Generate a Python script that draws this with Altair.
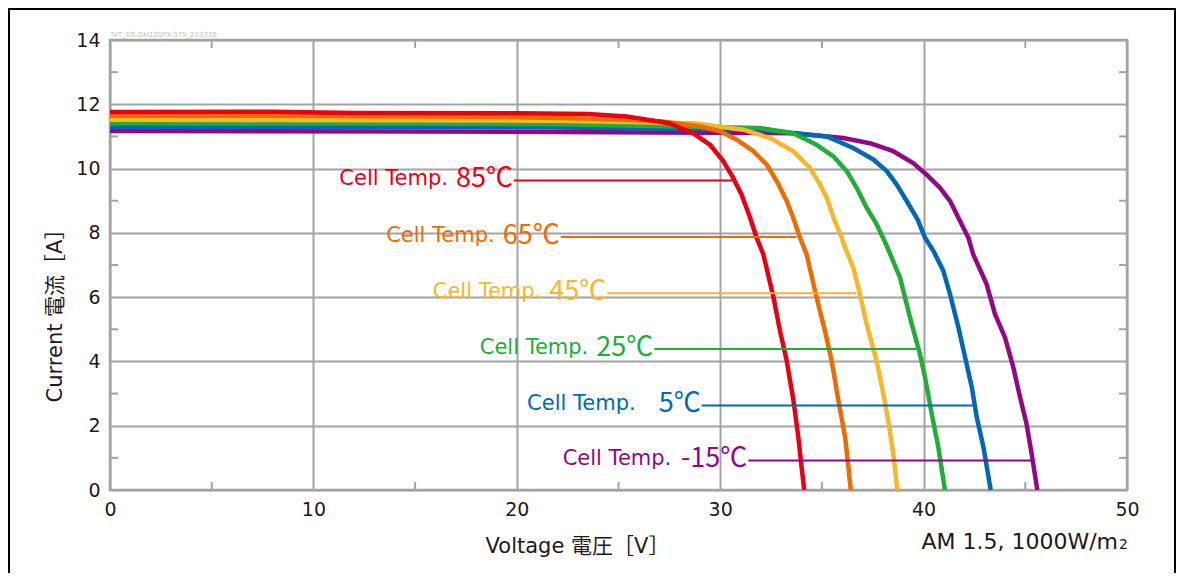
import altair as alt
import pandas as pd

FONT = "DejaVu Sans, Noto Sans CJK JP"
NUMFONT = "Noto Sans CJK JP"
TXT = "#231815"
GRID = "#a3a3a3"

temps = ["-15℃", "5℃", "25℃", "45℃", "65℃", "85℃"]
colors = ["#920783", "#0068b7", "#22ac38", "#f8b62d", "#ed6c00", "#e60012"]

v_m15 = [0, 15, 22, 33.59, 36.05, 37.36, 38.51, 39.49, 40.15, 40.81, 41.3, 41.79, 42.2, 42.44, 43.1, 43.51, 44.0, 44.41, 44.74, 45.06, 45.31, 45.59]
i_m15 = [11.17, 11.15, 11.14, 11.10, 10.95, 10.79, 10.54, 10.17, 9.81, 9.40, 8.99, 8.37, 7.85, 7.33, 6.40, 5.47, 4.75, 3.82, 2.89, 2.06, 1.13, 0.0]

v_5 = [0, 15, 22, 31.96, 35.24, 36.54, 37.53, 38.19, 38.68, 39.17, 39.7, 40.07, 40.48, 40.97, 41.3, 41.71, 42.04, 42.37, 42.61, 42.94, 43.3]
i_5 = [11.29, 11.29, 11.28, 11.21, 11.00, 10.64, 10.28, 9.92, 9.50, 8.99, 8.42, 7.85, 7.44, 6.82, 6.09, 5.06, 4.13, 3.20, 2.27, 1.34, 0.0]

v_25 = [0, 15, 22, 31.96, 33.59, 34.74, 35.56, 36.22, 36.71, 37.2, 37.69, 38.15, 38.84, 39.33, 39.82, 40.07, 40.4, 40.72, 41.05]
i_25 = [11.41, 11.40, 11.38, 11.26, 11.10, 10.74, 10.38, 9.92, 9.40, 8.78, 8.27, 7.65, 6.61, 5.37, 4.23, 3.51, 2.37, 1.34, 0.0]

v_45 = [0, 15, 22, 28.68, 31.14, 32.45, 33.59, 34.41, 34.91, 35.24, 35.6, 35.97, 36.14, 36.54, 36.87, 37.2, 37.69, 38.02, 38.26, 38.51, 38.71]
i_45 = [11.52, 11.50, 11.49, 11.41, 11.21, 10.95, 10.54, 10.02, 9.50, 9.09, 8.42, 7.85, 7.54, 6.92, 6.09, 5.16, 4.02, 2.99, 2.16, 1.13, 0.0]

v_65 = [0, 10, 20, 24, 27.04, 29.01, 29.99, 30.81, 31.63, 32.29, 32.78, 33.27, 33.59, 33.92, 34.25, 34.74, 35.15, 35.48, 35.81, 36.14, 36.3, 36.42]
i_65 = [11.64, 11.64, 11.60, 11.55, 11.47, 11.31, 11.16, 10.90, 10.54, 10.12, 9.61, 8.99, 8.47, 7.85, 7.33, 5.99, 4.95, 4.02, 2.79, 1.65, 0.72, 0.0]

v_85 = [0, 8, 12, 20, 23.5, 25.4, 27.5, 28.66, 29.5, 30.15, 30.64, 31.05, 31.47, 31.79, 32.12, 32.62, 32.94, 33.27, 33.6, 33.84, 34.0, 34.13]
i_85 = [11.76, 11.77, 11.73, 11.72, 11.70, 11.62, 11.41, 11.10, 10.74, 10.23, 9.71, 9.19, 8.47, 7.85, 7.33, 5.99, 4.95, 4.02, 2.79, 1.65, 0.72, 0.0]

series_v = [v_m15, v_5, v_25, v_45, v_65, v_85]
series_i = [i_m15, i_5, i_25, i_45, i_65, i_85]

leader_start = [31.38, 29.09, 26.76, 24.45, 22.16, 19.86]
leader_end = [45.31, 42.44, 39.66, 36.70, 33.76, 30.65]
leader_level = [0.92, 2.63, 4.39, 6.12, 7.87, 9.63]

x_ticks = [0, 10, 20, 30, 40, 50]
y_ticks = [0, 2, 4, 6, 8, 10, 12, 14]
x_minor = [5, 15, 25, 35, 45]
y_minor = [1, 3, 5, 7, 9, 11, 13]

W, H = 1017, 450

xscale = alt.Scale(domain=[0, 50], nice=False, zero=False)
yscale = alt.Scale(domain=[0, 14], nice=False, zero=False)

xaxis = alt.Axis(values=x_ticks, grid=True, gridColor=GRID, gridWidth=2, ticks=False, domain=False,
                 labelFont=FONT, labelFontSize=19, labelColor=TXT, labelPadding=10, labelFlush=False,
                 title="Voltage 電圧［V］", titleFont=FONT, titleFontSize=21, titleFontWeight="normal",
                 titleColor=TXT, titleX=467, titleY=62, titleAlign="center", titleBaseline="alphabetic")
yaxis = alt.Axis(values=y_ticks, grid=True, gridColor=GRID, gridWidth=2, ticks=False, domain=False,
                 labelFont=FONT, labelFontSize=19, labelColor=TXT, labelPadding=10, labelFlush=False,
                 title="Current 電流［A］", titleFont=FONT, titleFontSize=21, titleFontWeight="normal",
                 titleColor=TXT, titleX=-55, titleY=270, titleAngle=270, titleAlign="center",
                 titleBaseline="middle")


def X(f):
    return alt.X(f, type="quantitative", scale=xscale, axis=xaxis)


def Y(f):
    return alt.Y(f, type="quantitative", scale=yscale, axis=yaxis)


layers = []

# minor ticks
ym = pd.DataFrame({"m": y_minor})
xm = pd.DataFrame({"m": x_minor})
layers.append(alt.Chart(ym).mark_rule(color=GRID, strokeWidth=2).encode(y=Y("m"), x=alt.value(0), x2=alt.value(8)))
layers.append(alt.Chart(ym).mark_rule(color=GRID, strokeWidth=2).encode(y=Y("m"), x=alt.value(W - 8), x2=alt.value(W)))
layers.append(alt.Chart(xm).mark_rule(color=GRID, strokeWidth=2).encode(x=X("m"), y=alt.value(H - 8), y2=alt.value(H)))
layers.append(alt.Chart(xm).mark_rule(color=GRID, strokeWidth=2).encode(x=X("m"), y=alt.value(0), y2=alt.value(8)))

# curves
for v, i, c in zip(series_v, series_i, colors):
    df = pd.DataFrame({"V": v, "I": i})
    layers.append(alt.Chart(df).mark_line(color=c, strokeWidth=4.5, strokeJoin="round").encode(
        x=X("V"), y=Y("I"), order="V:Q"))

lab = pd.DataFrame({"temp": temps, "start": leader_start, "end": leader_end, "level": leader_level})
colscale = alt.Scale(domain=temps, range=colors)

layers.append(alt.Chart(lab).mark_rule(strokeWidth=2).encode(
    x=X("start"), x2="end", y=Y("level"), color=alt.Color("temp:N", scale=colscale, legend=None)))
layers.append(alt.Chart(lab).mark_text(align="right", baseline="middle", dx=-1, dy=-1, font=NUMFONT, fontSize=27).encode(
    x=X("start"), y=Y("level"), text="temp:N", color=alt.Color("temp:N", scale=colscale, legend=None)))
layers.append(alt.Chart(lab).transform_filter(alt.datum.temp != "-15℃").mark_text(
    align="right", baseline="middle", dx=-66, dy=-1, font=FONT, fontSize=21).encode(
    x=X("start"), y=Y("level"), text=alt.value("Cell Temp."), color=alt.Color("temp:N", scale=colscale, legend=None)))
layers.append(alt.Chart(lab).transform_filter(alt.datum.temp == "-15℃").mark_text(
    align="right", baseline="middle", dx=-77, dy=-1, font=FONT, fontSize=21).encode(
    x=X("start"), y=Y("level"), text=alt.value("Cell Temp."), color=alt.Color("temp:N", scale=colscale, legend=None)))

one = pd.DataFrame({"a": [0]})
layers.append(alt.Chart(one).mark_text(align="right", baseline="alphabetic", font=FONT, fontSize=22, color=TXT).encode(
    x=alt.value(1008), y=alt.value(509), text=alt.value("AM 1.5, 1000W/m")))
layers.append(alt.Chart(one).mark_text(align="left", baseline="alphabetic", font=FONT, fontSize=14, color=TXT).encode(
    x=alt.value(1009), y=alt.value(509), text=alt.value("2")))
layers.append(alt.Chart(one).mark_text(align="left", baseline="alphabetic", font=FONT, fontSize=7, color="#bdbdbd").encode(
    x=alt.value(1), y=alt.value(-3), text=alt.value("IVT_EG-DH120PX-375_210710")))

# outer black frame
layers.append(alt.Chart(one).mark_rule(color="black", strokeWidth=2).encode(
    x=alt.value(-101), y=alt.value(-31), y2=alt.value(560)))
layers.append(alt.Chart(one).mark_rule(color="black", strokeWidth=2).encode(
    x=alt.value(1065), y=alt.value(-31), y2=alt.value(560)))
layers.append(alt.Chart(one).mark_rule(color="black", strokeWidth=2).encode(
    x=alt.value(-102), x2=alt.value(1066), y=alt.value(-31)))

chart = alt.layer(*layers).properties(
    width=W, height=H,
    padding={"left": 102, "top": 32, "right": 49, "bottom": 83},
    autosize=alt.AutoSizeParams(type="none"),
    background="white",
).configure_view(stroke=GRID, strokeWidth=2.5)

chart.save("out.html", embed_options={"renderer": "svg", "actions": False})
